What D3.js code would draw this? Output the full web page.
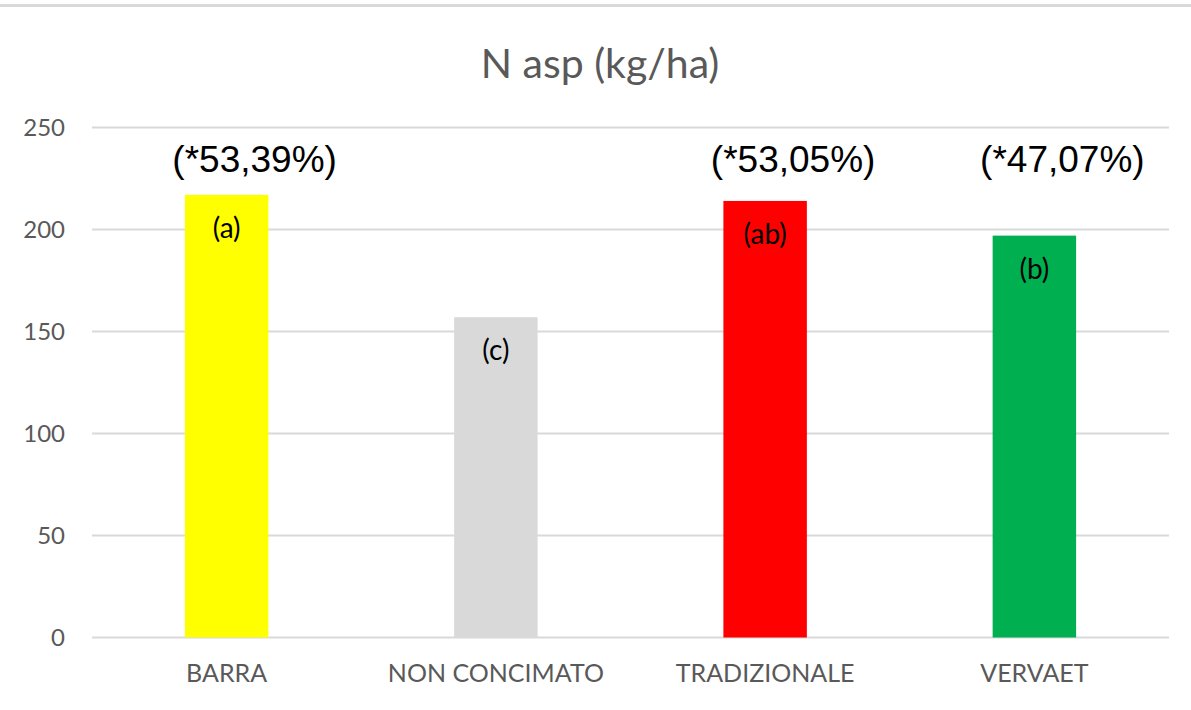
<!DOCTYPE html>
<meta charset="utf-8">
<html>
<style>
body { margin: 0; background: #fff; }
.grid line { stroke: #d9d9d9; stroke-width: 2px; }
.yaxis text, .xaxis text { fill: #595959; font-family: Lato, "Open Sans", sans-serif; }
</style>
<svg width="1191" height="710"></svg>
<script src="https://d3js.org/d3.v7.min.js"></script>
<script>
// data
var categories = ["BARRA", "NON CONCIMATO", "TRADIZIONALE", "VERVAET"];
var values = [217, 157, 214, 197];
var colors = ["#ffff00", "#d9d9d9", "#ff0000", "#00b050"];
var letters = ["(a)", "(c)", "(ab)", "(b)"];
var percents = ["(*53,39%)", "", "(*53,05%)", "(*47,07%)"];
var yTicks = [0, 50, 100, 150, 200, 250];

var svg = d3.select("svg"),
    width = +svg.attr("width"),
    height = +svg.attr("height");

var margin = {left: 92, right: 22, top: 127.5, bottom: 72.5};

// thin grey frame line at the top
svg.append("rect")
    .attr("x", 0).attr("y", 4)
    .attr("width", width).attr("height", 3)
    .attr("fill", "#d9d9d9");

svg.append("text")
    .attr("x", 600).attr("y", 78)
    .attr("text-anchor", "middle")
    .attr("fill", "#595959")
    .style("font-family", "Lato, sans-serif")
    .style("font-size", "41px")
    .text("N asp (kg/ha)");

var x = d3.scaleBand()
    .domain(categories)
    .range([margin.left, width - margin.right])
    .paddingInner(0.69)
    .paddingOuter(0.345);

var y = d3.scaleLinear()
    .domain([0, 250])
    .range([height - margin.bottom, margin.top]);

// gridlines
svg.append("g")
    .attr("class", "grid")
  .selectAll("line")
  .data(yTicks)
  .enter().append("line")
    .attr("x1", margin.left)
    .attr("x2", width - margin.right)
    .attr("y1", function(d) { return y(d); })
    .attr("y2", function(d) { return y(d); });

// y axis labels
var yAxis = svg.append("g")
    .attr("class", "yaxis")
    .attr("transform", "translate(" + (margin.left - 27) + ",0)")
    .call(d3.axisLeft(y).tickValues(yTicks).tickSize(0).tickPadding(0));
yAxis.select(".domain").remove();
yAxis.selectAll("text").style("font-size", "24px");

var data = categories.map(function(c, i) {
  return {cat: c, value: values[i], color: colors[i], letter: letters[i], pct: percents[i]};
});

svg.append("g")
  .selectAll("rect")
  .data(data)
  .enter().append("rect")
    .attr("x", function(d) { return x(d.cat); })
    .attr("width", x.bandwidth())
    .attr("y", function(d) { return y(d.value); })
    .attr("height", function(d) { return y(0) - y(d.value); })
    .attr("fill", function(d) { return d.color; });

// x axis labels
var xAxis = svg.append("g")
    .attr("class", "xaxis")
    .attr("transform", "translate(0," + (y(0) + 27) + ")")
    .call(d3.axisBottom(x).tickSize(0).tickPadding(0));
xAxis.select(".domain").remove();
xAxis.selectAll("text").style("font-size", "25px").attr("dy", "0.7em");

// significance letters inside bars
svg.append("g")
  .selectAll("text")
  .data(data)
  .enter().append("text")
    .attr("x", function(d) { return x(d.cat) + x.bandwidth() / 2; })
    .attr("y", function(d) { return y(d.value) + 43; })
    .attr("text-anchor", "middle")
    .attr("fill", "#000")
    .style("font-family", "Lato, sans-serif")
    .style("font-size", "28px")
    .text(function(d) { return d.letter; });

// percentages above
svg.append("g")
  .selectAll("text")
  .data(data.filter(function(d) { return d.pct; }))
  .enter().append("text")
    .attr("x", function(d) { return x(d.cat) + x.bandwidth() / 2 + 28; })
    .attr("y", y(228))
    .attr("text-anchor", "middle")
    .attr("fill", "#000")
    .style("font-family", "'Liberation Sans', Arial, sans-serif")
    .style("font-size", "37px")
    .text(function(d) { return d.pct; });
</script>
</html>
